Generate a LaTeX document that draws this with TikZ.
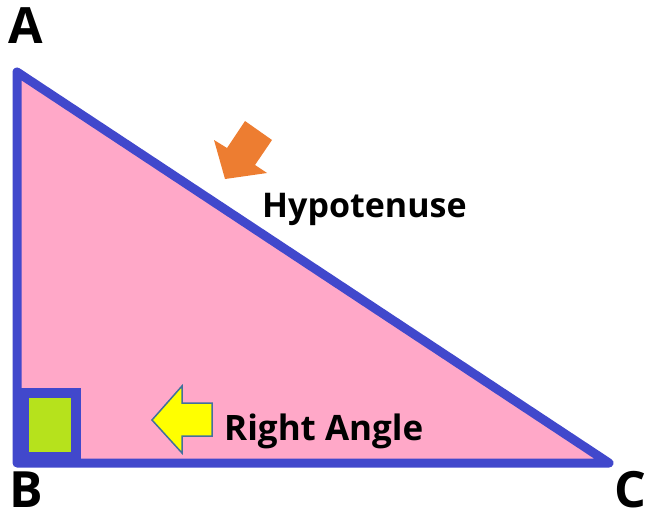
\documentclass[tikz,border=0pt]{standalone}
\usepackage{fontspec}
\setmainfont{Open Sans}
\usepackage{tikz}
\usetikzlibrary{positioning, calc}
\usepackage{xcolor}
\definecolor{cPink}{RGB}{255,168,200}
\definecolor{cBlue}{RGB}{65,72,204}
\definecolor{cLime}{RGB}{182,226,28}
\definecolor{cOrange}{RGB}{237,125,49}
\definecolor{cYellow}{RGB}{255,255,0}
\definecolor{cEdge}{RGB}{65,113,156}
\tikzset{
  triedge/.style={draw=cBlue, fill=cPink, line width=9pt, line join=round},
  vertexlabel/.style={font=\fontsize{50}{50}\selectfont\bfseries, inner sep=0pt},
  textlabel/.style={font=\fontsize{34}{34}\selectfont\bfseries, inner sep=0pt, anchor=base west},
  orangearrow/.style={fill=cOrange},
  yellowarrow/.style={fill=cYellow, draw=cEdge, line width=1.5pt, line join=miter}
}

\begin{document}
\begin{tikzpicture}[x=1pt, y=-1pt]

  \useasboundingbox (0,0) rectangle (646,519);

  % Vertices
  \coordinate (A) at (17,72);
  \coordinate (B) at (17,463);
  \coordinate (C) at (609,463);

  % Triangle
  \draw[triedge] (A) -- (B) -- (C) -- cycle;

  % Right angle box
  \fill[cBlue] (B) rectangle ++(64,-75);
  \fill[cLime] ($(B)+(12,-11)$) rectangle ++(42,-54);

  % Vertex labels
  \node[vertexlabel] (labA) at (26,26) {A};
  \node[vertexlabel] (labB) at (26,490) {B};
  \node[vertexlabel] (labC) at (630,490) {C};

  % Side labels
  \node[textlabel] (hyp) at (262,217) {Hypotenuse};
  \node[textlabel, font=\fontsize{35}{35}\selectfont\bfseries] (rang) at (224,440) {Right Angle};

  % Arrows
  \fill[orangearrow] (245,121) -- (272,140) -- (255,165) -- (267,173)
      -- (225,179) -- (214,140) -- (227,148) -- cycle;
  \draw[yellowarrow] (152,420) -- (182,386) -- (182,403) -- (212,403)
      -- (212,436) -- (182,436) -- (182,453) -- cycle;

\end{tikzpicture}
\end{document}
